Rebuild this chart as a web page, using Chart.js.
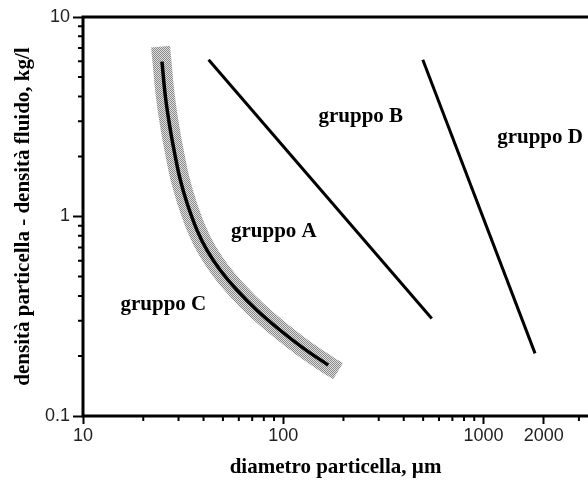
<!DOCTYPE html>
<html lang="it">
<head>
    <meta charset="UTF-8">
    <title>Classificazione di Geldart</title>
    <style>
        html, body { margin: 0; padding: 0; background: #fff; }
        #wrap { width: 588px; height: 480px; }
    </style>
</head>
<body>
    <div id="wrap"><canvas id="geldart"></canvas></div>

    <script src="https://cdn.jsdelivr.net/npm/chart.js"></script>
    <script>
        // confine gruppo C / gruppo A
        const curvaC_x = [24.8, 25.8, 27.3, 28.9, 30.6, 33.1, 37.1, 41.6, 48.5, 58.7, 73.9, 96.6, 125.9, 167.8];
        const curvaC_y = [5.98, 3.99, 2.72, 2.00, 1.53, 1.165, 0.855, 0.679, 0.538, 0.428, 0.339, 0.269, 0.219, 0.180];
        // fascia grigia attorno alla curva C
        const fasciaC_x = [24.4, 24.8, 25.8, 27.3, 28.9, 30.6, 33.1, 37.1, 41.6, 48.5, 58.7, 73.9, 96.6, 125.9, 167.8, 188];
        const fasciaC_y = [7.1, 5.98, 3.99, 2.72, 2.00, 1.53, 1.165, 0.855, 0.679, 0.538, 0.428, 0.339, 0.269, 0.219, 0.180, 0.168];
        // confine gruppo A / gruppo B
        const lineaAB_x = [42.4, 552];
        const lineaAB_y = [6.1, 0.308];
        // confine gruppo B / gruppo D
        const lineaBD_x = [498, 1811];
        const lineaBD_y = [6.1, 0.206];

        const xTicks = [10, 20, 30, 40, 50, 60, 70, 80, 90, 100, 200, 300, 400, 500, 600, 700, 800, 900, 1000, 2000, 3000];
        const xLabels = [10, 100, 1000, 2000];
        const yTicks = [0.1, 0.2, 0.3, 0.4, 0.5, 0.6, 0.7, 0.8, 0.9, 1, 2, 3, 4, 5, 6, 7, 8, 9, 10];
        const yLabels = [0.1, 1, 10];

        const gruppi = ['gruppo A', 'gruppo B', 'gruppo C', 'gruppo D'];
        const gruppi_x = [89.8, 244, 25.2, 1919];
        const gruppi_y = [0.836, 3.16, 0.36, 2.48];

        const punti = (xs, ys) => xs.map((x, i) => ({ x: x, y: ys[i] }));

        // retino a puntini per la fascia
        const pc = document.createElement('canvas');
        pc.width = 2; pc.height = 2;
        const p = pc.getContext('2d');
        p.fillStyle = '#dedede'; p.fillRect(0, 0, 2, 2);
        p.fillStyle = '#8a8a8a'; p.fillRect(0, 0, 1, 1); p.fillRect(1, 1, 1, 1);
        const retino = p.createPattern(pc, 'repeat');

        const cornice = {
            id: 'cornice',
            afterDraw(chart) {
                const { ctx, chartArea: a, scales: { x, y } } = chart;
                ctx.save();
                ctx.strokeStyle = '#000';
                ctx.lineWidth = 2;
                ctx.beginPath();
                xTicks.filter(v => !xLabels.includes(v)).forEach(v => {
                    const px = x.getPixelForValue(v);
                    ctx.moveTo(px, a.bottom);
                    ctx.lineTo(px, a.bottom + 5);
                });
                yTicks.filter(v => !yLabels.includes(v)).forEach(v => {
                    const py = y.getPixelForValue(v);
                    ctx.moveTo(a.left, py);
                    ctx.lineTo(a.left - 5, py);
                });
                ctx.stroke();

                ctx.lineWidth = 3;
                ctx.beginPath();
                ctx.moveTo(a.right, a.top);
                ctx.lineTo(a.left, a.top);
                ctx.lineTo(a.left, a.bottom);
                ctx.lineTo(a.right, a.bottom);
                ctx.stroke();

                ctx.fillStyle = '#000';
                ctx.font = 'bold 21px "Liberation Serif"';
                ctx.textAlign = 'center';
                ctx.textBaseline = 'middle';
                gruppi.forEach((g, i) => {
                    ctx.fillText(g, x.getPixelForValue(gruppi_x[i]), y.getPixelForValue(gruppi_y[i]));
                });
                ctx.restore();
            }
        };

        const ctx = document.getElementById('geldart').getContext('2d');
        new Chart(ctx, {
            type: 'scatter',
            data: {
                datasets: [
                    {
                        data: punti(curvaC_x, curvaC_y),
                        showLine: true,
                        borderColor: '#000',
                        borderWidth: 3.5,
                        pointRadius: 0,
                        tension: 0.4
                    },
                    {
                        data: punti(lineaAB_x, lineaAB_y),
                        showLine: true,
                        borderColor: '#000',
                        borderWidth: 3,
                        pointRadius: 0
                    },
                    {
                        data: punti(lineaBD_x, lineaBD_y),
                        showLine: true,
                        borderColor: '#000',
                        borderWidth: 3,
                        pointRadius: 0
                    },
                    {
                        data: punti(fasciaC_x, fasciaC_y),
                        showLine: true,
                        borderColor: retino,
                        borderWidth: 19,
                        borderCapStyle: 'butt',
                        pointRadius: 0,
                        tension: 0.4
                    }
                ]
            },
            options: {
                responsive: true,
                maintainAspectRatio: false,
                animation: false,
                layout: { padding: { top: 17, right: 0, bottom: 0, left: 0 } },
                plugins: {
                    legend: { display: false },
                    tooltip: { enabled: false }
                },
                scales: {
                    x: {
                        type: 'logarithmic',
                        min: 10,
                        max: 3330,
                        afterBuildTicks: s => { s.ticks = xTicks.map(v => ({ value: v })); },
                        afterFit: s => { s.height = 64; },
                        border: { display: false },
                        grid: {
                            drawOnChartArea: false,
                            tickLength: 8,
                            tickWidth: 2,
                            tickColor: c => xLabels.includes(c.tick.value) ? '#000' : 'rgba(0,0,0,0)'
                        },
                        ticks: {
                            autoSkip: false,
                            maxRotation: 0,
                            padding: 1,
                            color: '#222',
                            font: { family: 'Liberation Sans', size: 18 },
                            callback: v => xLabels.includes(v) ? String(v) : ''
                        },
                        title: {
                            display: true,
                            text: 'diametro particella, µm',
                            color: '#000',
                            padding: { top: 0, bottom: 0 },
                            font: { family: 'Liberation Serif', size: 21, weight: 'bold' }
                        }
                    },
                    y: {
                        type: 'logarithmic',
                        min: 0.1,
                        max: 10,
                        afterBuildTicks: s => { s.ticks = yTicks.map(v => ({ value: v })); },
                        afterFit: s => { s.width = 83; },
                        border: { display: false },
                        grid: {
                            drawOnChartArea: false,
                            tickLength: 10,
                            tickWidth: 2,
                            tickColor: c => yLabels.includes(c.tick.value) ? '#000' : 'rgba(0,0,0,0)'
                        },
                        ticks: {
                            autoSkip: false,
                            padding: 3,
                            color: '#222',
                            font: { family: 'Liberation Sans', size: 18 },
                            callback: v => yLabels.includes(v) ? String(v) : ''
                        },
                        title: {
                            display: true,
                            text: 'densità particella - densità fluido, kg/l',
                            color: '#000',
                            padding: { top: 11, bottom: 0 },
                            font: { family: 'Liberation Serif', size: 21, weight: 'bold' }
                        }
                    }
                }
            },
            plugins: [cornice]
        });
    </script>
</body>
</html>
